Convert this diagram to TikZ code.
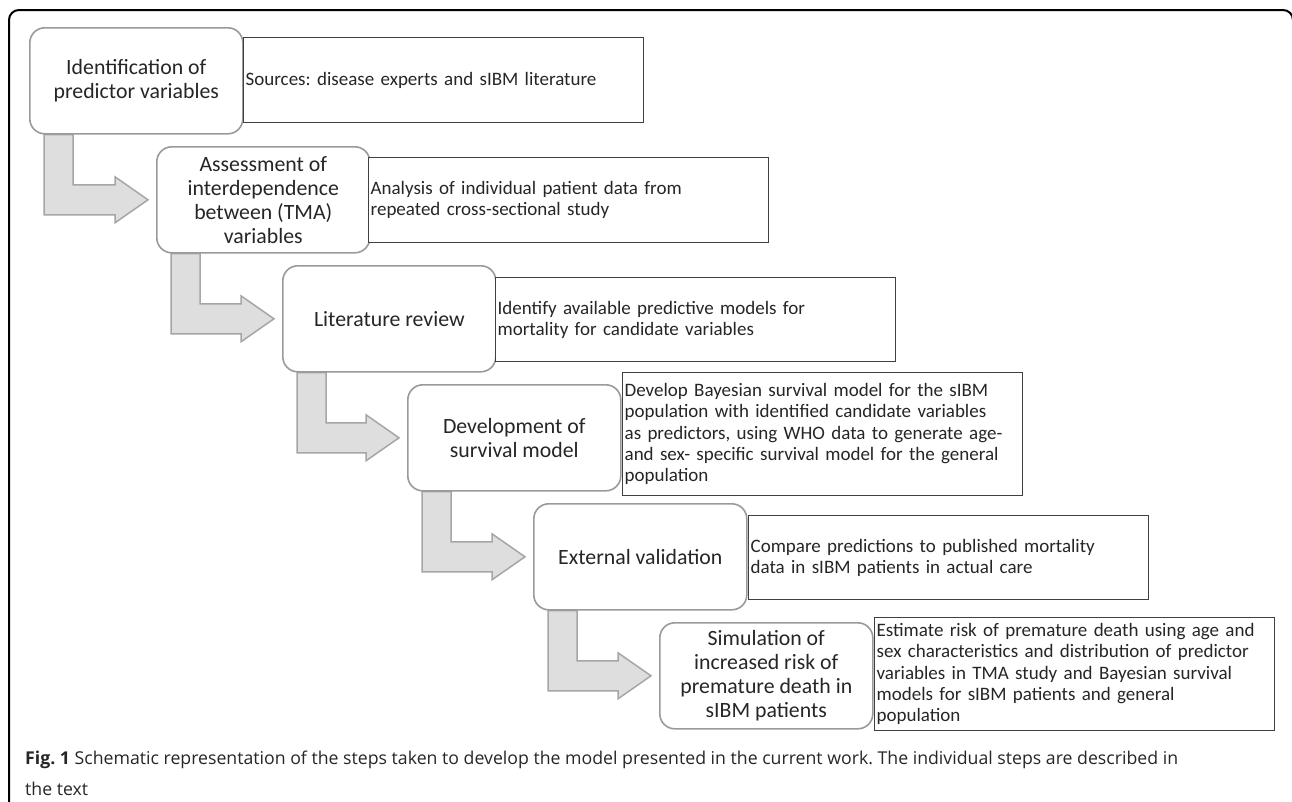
\documentclass[tikz,border=0pt]{standalone}
\usepackage{fontspec}
\setmainfont{Carlito}
\newfontfamily\capfont{Open Sans}
\usepackage{tikz}
\usetikzlibrary{positioning,calc,backgrounds}
\definecolor{stepgray}{HTML}{9A9A9A}
\definecolor{notegray}{HTML}{404040}
\definecolor{arrgray}{HTML}{A6A6A6}
\definecolor{arrfill}{HTML}{DEDEDE}
\definecolor{txt}{HTML}{262626}
\tikzset{
  stepbox/.style={rectangle, rounded corners=15pt, draw=stepgray, line width=1.6pt, fill=white,
                  align=center, minimum width=213pt, minimum height=106pt, inner sep=2pt,
                  font=\fontsize{21.8}{24}\selectfont, text=txt},
  notebox/.style={rectangle, draw=notegray, line width=1.3pt, fill=white,
                  align=left, text width=396pt, minimum height=85pt, inner sep=2pt,
                  font={\fontsize{19}{21.3}\selectfont\hyphenpenalty10000}, text=txt},
  bendar/.style={draw=arrgray, fill=arrfill, line width=1.5pt, line join=miter},
  frame/.style={draw=black, line width=2pt, rounded corners=10pt},
}
% L-shaped block arrow from the bottom of #1 to the left side of #2
\newcommand{\bendto}[2]{%
  \coordinate (#1s) at ($(#1.south west)+(15,0)$);
  \draw[bendar] (#1s) -- ($(#1s |- #2.west)+(0,15)$) -- ($(#2.west)+(-41,15)$)
    -- ($(#2.west)+(-41,23)$) -- ($(#2.west)+(-8,0)$) -- ($(#2.west)+(-41,-23)$)
    -- ($(#2.west)+(-41,-15)$) -- ($(#1s |- #2.west)+(29,-15)$) -- ($(#1s)+(29,0)$) -- cycle;}

\begin{document}
\frenchspacing
\begin{tikzpicture}[x=1pt,y=-1pt]
\useasboundingbox (0,0) rectangle (1292,801);
\begin{scope}
\clip (0,0) rectangle (1292,801);
\draw[frame] (9,810) -- (9,10) -- (1293,10) -- (1293,810);
\end{scope}

% ---------- steps ----------
\node[stepbox,anchor=north west] (b1) at ( 29, 27) {Identification of\\predictor variables};
\node[stepbox,anchor=north west] (b2) at (156,146) {Assessment of\\interdependence\\between (TMA)\\variables};
\node[stepbox,anchor=north west] (b3) at (282,265) {Literature review};
\node[stepbox,anchor=north west] (b4) at (407,384) {Development of\\survival model};
\node[stepbox,anchor=north west] (b5) at (533,503) {External validation};
\node[stepbox,anchor=north west] (b6) at (659,622) {Simulation of\\increased risk of\\premature death in\\sIBM patients};

% ---------- descriptions ----------
\node[notebox,anchor=north west] (r1) at (243, 37) {Sources: disease experts and sIBM literature};
\node[notebox,anchor=north west] (r2) at (368,157)
   {Analysis of individual patient data from\\repeated cross-sectional study};
\node[notebox,anchor=north west,minimum height=84pt] (r3) at (495,277)
   {Identify available predictive models for\\mortality for candidate variables};
\node[notebox,anchor=north west,minimum height=123pt] (r4) at (622,372)
   {Develop Bayesian survival model for the sIBM\\population  with identified  candidate variables\\as predictors, using WHO data to generate age-\\and sex- specific survival model for the general\\population};
\node[notebox,anchor=north west,minimum height=84pt] (r5) at (748,515)
   {Compare predictions to published mortality\\data in sIBM patients in actual care};
\node[notebox,anchor=north west,minimum height=113pt] (r6) at (874,617)
   {Estimate risk of premature death using age and\\sex characteristics and distribution of predictor\\variables in TMA study and Bayesian survival\\models for sIBM patients and general\\population};

% ---------- arrows (behind the boxes) ----------
\begin{scope}[on background layer]
\bendto{b1}{b2}
\bendto{b2}{b3}
\bendto{b3}{b4}
\bendto{b4}{b5}
\bendto{b5}{b6}
\end{scope}

% ---------- caption ----------
\node[anchor=north west,inner sep=0pt,align=left,text=txt,
      font=\capfont\fontsize{17.7}{31}\selectfont] (cap) at (25,751)
   {\textbf{Fig. 1} Schematic representation of the steps taken to develop the model presented in the current work. The individual steps are described in\\the text};
\end{tikzpicture}
\end{document}
